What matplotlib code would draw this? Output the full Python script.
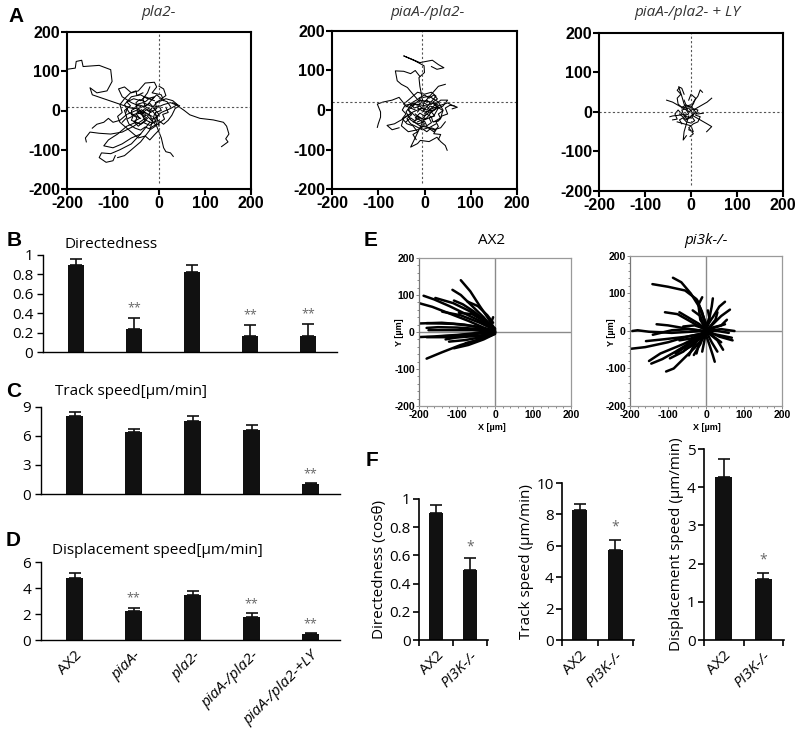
import matplotlib
matplotlib.use("Agg")
import matplotlib.pyplot as plt
from matplotlib.ticker import AutoMinorLocator

# ---------------- bar data (panels B-D) ----------------
groups = ["AX2", "piaA-", "pla2-", "piaA-/pla2-", "piaA-/pla2-+LY"]
directedness = [0.90, 0.24, 0.82, 0.16, 0.17]
directedness_err = [0.06, 0.11, 0.08, 0.12, 0.12]
directedness_sig = ["", "**", "", "**", "**"]
track_speed = [8.05, 6.44, 7.57, 6.61, 1.03]
track_speed_err = [0.48, 0.30, 0.55, 0.51, 0.07]
track_speed_sig = ["", "", "", "", "**"]
disp_speed = [4.77, 2.22, 3.44, 1.79, 0.46]
disp_speed_err = [0.36, 0.25, 0.33, 0.25, 0.05]
disp_speed_sig = ["", "**", "", "**", "**"]

# ---------------- bar data (panel F) ----------------
f_groups = ["AX2", "PI3K-/-"]
f_directedness = [0.90, 0.50]
f_directedness_err = [0.055, 0.08]
f_track = [8.3, 5.72]
f_track_err = [0.38, 0.68]
f_disp = [4.27, 1.59]
f_disp_err = [0.47, 0.16]

track_ticks = [-200, -100, 0, 100, 200]

# ---------------- cell tracks (panel A), x/y in um ----------------
tracks_pla2 = [
    [(-200, 105), (-182, 108), (-180, 125), (-168, 128), (-165, 112), (-130, 115), (-105, 104),
     (-102, 74), (-113, 50), (-135, 45), (-150, 58), (-145, 40), (-120, 30), (-95, 20),
     (-70, 10), (-50, 5), (-35, -5)],
    [(-10, 5), (10, 15), (25, 20), (38, 14), (55, 0), (67, -11), (89, -20), (118, -24),
     (140, -30), (147, -40), (152, -60), (145, -72), (150, -80), (136, -92)],
    [(-20, -20), (-5, -40), (5, -70), (10, -95), (15, -105), (25, -108), (31, -117)],
    [(-30, -20), (-55, -40), (-80, -55), (-105, -60), (-130, -58), (-150, -55), (-160, -70), (-158, -80)],
    [(-20, -30), (-40, -60), (-60, -85), (-85, -100), (-105, -110), (-125, -108), (-130, -120),
     (-115, -132), (-100, -128), (-95, -115)],
    [(-10, -10), (-20, -50), (-40, -80), (-65, -105), (-75, -115), (-90, -120)],
    [(-40, 10), (-60, 20), (-80, 35), (-88, 55), (-75, 60), (-60, 45), (-45, 50), (-30, 70),
     (-10, 72), (-5, 60), (-15, 45), (5, 40), (10, 25)],
    [(-30, -10), (-50, 0), (-70, -10), (-85, -25), (-100, -30), (-110, -20), (-120, -30),
     (-135, -35), (-145, -45)],
    [(-10, -30), (0, -10), (-15, 10), (-35, 20), (-50, 15), (-45, -5), (-25, -20), (-40, -35),
     (-60, -25), (-55, -10), (-30, -5), (-15, -15)],
    [(-20, 0), (-5, 20), (15, 30), (30, 25), (40, 15), (25, 5), (5, -5), (-10, -20), (-5, -35), (-20, -45)],
    [(-40, -20), (-65, -5), (-75, 15), (-60, 35), (-40, 40), (-25, 30), (-10, 35), (-25, 15),
     (-45, 5), (-35, -10)],
    [(-50, -30), (-70, -40), (-90, -60), (-110, -75), (-120, -90), (-100, -95), (-80, -85),
     (-60, -70), (-40, -60)],
    [(-20, 60), (-25, 45), (-35, 30), (-30, 10), (-15, 0), (-5, -15), (0, -40)],
    [(-60, -10), (-48, -18), (-52, -30), (-40, -35), (-30, -28), (-35, -15), (-22, -10), (-15, -22),
     (-5, -18), (-8, -5), (5, 0), (0, 12), (-12, 8), (-20, 18), (-32, 10), (-45, 15), (-55, 5),
     (-68, 8), (-72, -5)],
    [(-10, 25), (-22, 30), (-30, 22), (-42, 28), (-50, 20), (-48, 8), (-60, 0), (-58, -15), (-70, -22),
     (-65, -35), (-52, -45), (-40, -50), (-30, -42), (-18, -48), (-8, -40), (2, -30), (12, -22),
     (8, -10), (20, -5), (15, 8)],
    [(-40, -5), (-30, 5), (-18, -2), (-25, -15), (-12, -30), (-20, -38), (-35, -30), (-45, -40),
     (-55, -28), (-42, -20), (-50, -8), (-38, 2), (-28, -8)],
    [(25, 10), (18, 22), (5, 28), (-8, 20), (-5, 5), (-18, -5), (-28, 2), (-38, -10), (-28, -25),
     (-15, -32), (-2, -25), (10, -35), (20, -25), (28, -12), (35, 5), (45, 12), (30, 20)],
    [(-80, -30), (-70, -18), (-75, 0), (-62, 12), (-70, 22), (-55, 30), (-40, 25), (-30, 35),
     (-15, 28), (-5, 40), (5, 30), (15, 38), (10, 55), (0, 62)],
    [(-35, 45), (-48, 38), (-50, 50), (-62, 45), (-75, 30), (-85, 15), (-80, -5), (-90, -15),
     (-85, -30), (-70, -45), (-60, -55), (-45, -70), (-30, -65), (-20, -75), (-10, -62), (0, -50)],
]

tracks_piaA_pla2 = [
    [(0, 0), (-5, 30), (-10, 60), (-12, 82), (0, 95), (-1, 112), (-20, 124), (-45, 137), (-30, 130),
     (-10, 120), (17, 126), (30, 115), (42, 107), (27, 103), (15, 110)],
    [(-10, 20), (-25, 40), (-37, 57), (-50, 65), (-59, 74), (-63, 99), (-45, 98), (-30, 92),
     (-20, 100), (-10, 85)],
    [(0, 20), (15, 40), (30, 60), (45, 65)],
    [(-20, 0), (-40, 10), (-55, 32), (-70, 25), (-90, 20), (-102, 15), (-95, -5), (-95, -18),
     (-100, -35), (-102, -44)],
    [(-30, -10), (-50, -25), (-65, -35), (-81, -39), (-70, -50), (-55, -45)],
    [(0, -20), (-10, -45), (-20, -70), (-30, -94), (-15, -85), (-9, -77), (10, -80), (27, -69),
     (35, -80), (45, -90), (49, -102)],
    [(10, 0), (30, 10), (50, 18), (60, 12), (71, 7), (60, 3)],
    [(-30, 10), (-10, 25), (15, 20), (30, 5), (20, -15), (0, -25), (-20, -15), (-35, 0), (-20, 15),
     (5, 10), (15, -5), (5, -20), (-15, -30)],
    [(20, -30), (35, -20), (40, 0), (30, 20), (10, 35), (-10, 30), (-25, 20), (-40, -5), (-30, -25),
     (-10, -40), (10, -45), (25, -35)],
    [(-5, 5), (-25, -5), (-45, -20), (-50, -40), (-35, -55), (-15, -50), (0, -40), (20, -50),
     (35, -45), (45, -30)],
    [(0, -10), (20, 10), (35, 25), (50, 25), (40, 10), (20, 0), (0, -5), (-15, 5), (-10, 15)],
    [(-45, 15), (-30, 30), (-15, 45), (0, 40), (15, 45), (25, 35), (10, 15), (-5, -5)],
    [(-20, -10), (-10, -20), (-25, -30), (-12, -35), (0, -28), (5, -40), (15, -32), (10, -20),
     (22, -15), (15, -5), (25, 5), (12, 10), (5, 0), (-8, 5), (-15, -5)],
    [(-35, 0), (-28, -12), (-38, -22), (-30, -35), (-18, -42), (-5, -50), (8, -45), (20, -55),
     (30, -42), (25, -30), (35, -22), (30, -10), (40, -2), (28, 8), (20, 18), (8, 12), (-5, 20),
     (-15, 12), (-28, 18), (-40, 8)],
    [(10, -5), (0, -15), (-10, -8), (-20, -20), (-10, -25), (0, -35), (-8, -45), (5, -55), (15, -45),
     (25, -50), (20, -60), (35, -62), (30, -75)],
    [(-40, -30), (-30, -20), (-20, -28), (-15, -15), (-5, -22), (5, -10), (15, -18), (18, -30),
     (30, -28), (38, -15), (50, -10), (45, 5), (55, 12), (65, 10)],
    [(0, 0), (-10, 10), (-22, 5), (-30, 15), (-42, 12), (-48, 0), (-40, -10), (-48, -22), (-38, -35),
     (-25, -40), (-15, -55), (-25, -62), (-18, -75)],
    [(15, 15), (5, 25), (-5, 18), (-12, 30), (0, 38), (10, 30), (20, 38), (28, 28), (18, 20),
     (30, 12), (22, 0), (10, -8)],
]

tracks_ly = [
    [(-5, 0), (-15, 20), (-20, 40), (-27, 64), (-20, 60), (-15, 45)],
    [(0, 5), (5, 25), (15, 40), (20, 56), (25, 50)],
    [(5, 5), (20, 15), (35, 25), (45, 35)],
    [(-10, 5), (-25, 15), (-40, 25), (-53, 30)],
    [(-10, -5), (-25, -8), (-40, -10), (-46, -12)],
    [(-5, -10), (-10, -30), (-15, -50), (-17, -71), (-10, -60)],
    [(5, -10), (20, -20), (35, -30), (45, -37), (34, -50)],
    [(5, 0), (15, -5), (27, -3)],
    [(-20, 10), (0, 15), (10, 0), (0, -15), (-15, -10), (-20, 5), (-5, 10), (5, -5), (-10, -20), (-25, -5)],
    [(-15, 30), (-10, 15), (5, 20), (10, 35), (0, 45), (-5, 30)],
    [(-30, -25), (-15, -30), (0, -35), (5, -50), (-5, -45)],
    [(-10, 5), (-5, -5), (-15, -10), (-8, -18), (2, -12), (8, -22), (0, -28), (-10, -25), (-18, -15),
     (-25, -20), (-20, -30)],
    [(0, 10), (-10, 18), (-20, 12), (-28, 20), (-30, 35), (-22, 45), (-30, 55), (-25, 62)],
    [(-5, 0), (5, 8), (15, 5), (10, -8), (20, -12), (15, -25), (5, -30), (-5, -40), (5, -55), (-2, -62)],
    [(-20, -5), (-28, 5), (-35, -5), (-30, -18), (-40, -20)],
]

# ---------------- cell tracks (panel E) ----------------
tracks_ax2 = [
    [(0, 0), (-30, 12), (-70, 30), (-120, 50), (-165, 68), (-200, 78)],
    [(0, 5), (-30, 25), (-70, 45), (-120, 70), (-160, 88), (-188, 98)],
    [(0, 10), (-30, 35), (-70, 58), (-110, 78), (-157, 92)],
    [(-5, 15), (-20, 40), (-40, 70), (-65, 110), (-90, 140)],
    [(-5, 10), (-30, 40), (-60, 70), (-90, 100), (-112, 114)],
    [(0, 8), (-25, 30), (-55, 55), (-85, 75), (-108, 85)],
    [(-5, 25), (-20, 45), (-45, 70), (-72, 82)],
    [(0, 3), (-40, 12), (-80, 20), (-140, 25), (-200, 23)],
    [(0, 2), (-40, 8), (-100, 12), (-150, 13), (-180, 11)],
    [(0, 0), (-50, -3), (-100, -8), (-160, -12), (-206, -14)],
    [(0, -2), (-40, -10), (-90, -14), (-140, -14), (-180, -14)],
    [(0, -5), (-40, -20), (-90, -35), (-140, -55), (-180, -72)],
    [(0, -3), (-40, -15), (-80, -22), (-121, -26)],
    [(0, -5), (-30, -20), (-70, -35), (-108, -44)],
    [(0, -3), (-30, -15), (-55, -25), (-77, -30)],
    [(0, 5), (-40, 25), (-90, 45), (-139, 55)],
    [(0, 8), (-30, 30), (-60, 48), (-95, 52)],
    [(0, 2), (-50, 15), (-110, 22), (-180, 24)],
    [(0, 0), (-60, 5), (-120, 5), (-175, 5)],
    [(0, -2), (-50, -5), (-110, -10), (-150, -12)],
    [(-5, 40), (-10, 25), (-5, 10), (0, 0)],
    [(0, 0), (-40, -12), (-75, -10), (-130, -20)],
]

tracks_pi3k = [
    [(0, 0), (-40, -2), (-90, -5), (-150, -2), (-180, 2), (-194, 0)],
    [(0, -5), (-50, -15), (-100, -30), (-160, -43), (-203, -48)],
    [(-10, -10), (-40, -30), (-80, -55), (-115, -75), (-144, -87)],
    [(-5, -15), (-30, -45), (-60, -75), (-85, -100), (-105, -108)],
    [(0, -10), (-30, -30), (-60, -55), (-95, -73)],
    [(0, 10), (-10, 50), (-25, 85), (-55, 108), (-100, 118), (-141, 125)],
    [(0, 20), (-15, 60), (-40, 100), (-65, 130), (-87, 142)],
    [(-5, 5), (-40, 25), (-75, 45), (-108, 50)],
    [(0, 10), (10, 40), (15, 65), (18, 87)],
    [(0, 0), (20, 20), (40, 40), (63, 57)],
    [(0, 0), (25, 10), (50, 18)],
    [(0, -5), (30, -10), (68, -18)],
    [(0, -10), (10, -40), (18, -65), (23, -82)],
    [(-5, -10), (-15, -35), (-32, -64)],
    [(-10, 0), (-60, 8), (-100, 15), (-130, 18)],
    [(0, -5), (-50, -15), (-110, -22), (-158, -27)],
    [(0, 15), (-10, 45), (-23, 82)],
    [(0, 10), (20, 40), (35, 65), (50, 78)],
    [(0, 0), (-5, -30), (-10, -55)],
    [(0, 0), (30, 0), (60, -5)],
    [(-20, -20), (-35, -45), (-45, -65)],
    [(0, 5), (-20, 20), (-45, 35), (-70, 50)],
    [(5, 0), (35, -15), (70, -25)],
    [(0, 5), (40, 15), (55, 30)],
    [(0, 0), (15, -30), (30, -55)],
    [(0, 0), (-20, -40), (-25, -60)],
    [(0, -5), (-40, -20), (-70, -25)],
    [(0, 5), (-30, 15), (-60, 12)],
    [(0, 0), (10, 30), (5, 55)],
    [(5, 5), (25, 30), (30, 50)],
    [(-5, 0), (-30, -35), (-55, -50)],
    [(0, 0), (-15, 40), (-35, 55)],
    [(0, 0), (30, -25), (45, -50)],
    [(0, 0), (40, 5), (75, 0)],
    [(0, 0), (-50, -40), (-80, -60)],
    [(0, -5), (-60, -35), (-120, -60), (-150, -80)],
    [(0, 5), (-15, 30), (-20, 70), (-10, 90)],
    [(0, 0), (-45, 5), (-90, 2), (-140, -10)],
    [(0, 0), (-25, -15), (-50, -35)],
    [(0, 0), (20, -15), (40, -30)],
]

W, H = 800, 740
SANS = ["Open Sans", "DejaVu Sans"]
ARIAL = ["Liberation Sans", "DejaVu Sans"]

plt.rcParams["font.family"] = SANS

fig = plt.figure(figsize=(8, 7.4), dpi=100)


def box(left, top, right, bottom):
    # pixel box -> figure fraction rect
    return [left / W, 1 - bottom / H, (right - left) / W, (bottom - top) / H]


def ftext(x, y, s, **kw):
    fig.text(x / W, 1 - y / H, s, **kw)


def bold_ticks(ax, size):
    labels = [str(t) for t in track_ticks]
    ax.set_xticks(track_ticks)
    ax.set_yticks(track_ticks)
    ax.set_xticklabels(labels, family=ARIAL, fontweight="bold", fontsize=size)
    ax.set_yticklabels(labels, family=ARIAL, fontweight="bold", fontsize=size)


def track_panel(rect, tracks, hline, vline, title, tx):
    ax = fig.add_axes(rect)
    for tr in tracks:
        xs = [p[0] for p in tr]
        ys = [p[1] for p in tr]
        ax.plot(xs, ys, color="black", lw=0.75)
    ax.axhline(hline, color="#555555", lw=0.8, ls=(0, (2, 2)))
    ax.plot([vline, vline], [-185, 200], color="#555555", lw=0.8, ls=(0, (2, 2)))
    ax.set_xlim(-200, 200)
    ax.set_ylim(-200, 200)
    bold_ticks(ax, 11.5)
    for s in ax.spines.values():
        s.set_linewidth(1.5)
    ax.tick_params(direction="out", length=4, width=1.5, pad=1)
    ftext(tx, 13, title, ha="center", va="center", fontsize=11, style="italic",
          color="#333333")
    return ax


track_panel(box(67, 32, 251, 189), tracks_pla2, 10, 0, "pla2-", 159)
track_panel(box(332, 31, 517, 189), tracks_piaA_pla2, 20, -5, "piaA-/pla2-", 427)
track_panel(box(599, 33, 783, 191), tracks_ly, 0, 0, "piaA-/pla2- + LY", 687)


def bar_panel(rect, vals, errs, sigs, ylim, yticks, yticklabels, title, ty):
    ax = fig.add_axes(rect)
    x = list(range(len(vals)))
    ax.bar(x, vals, width=0.29, color="#111111", zorder=2)
    ax.errorbar(x, vals, yerr=[[0] * len(errs), errs], fmt="none", ecolor="#111111",
                elinewidth=1.2, capsize=4, capthick=1.2, zorder=1)
    span = ylim[1] - ylim[0]
    for xi, v, e, s in zip(x, vals, errs, sigs):
        if s:
            ax.text(xi, v + e + 0.04 * span, s, ha="center", va="bottom", fontsize=9,
                    color="#666666")
    ax.set_xlim(-0.57, 4.5)
    ax.set_ylim(*ylim)
    ax.set_yticks(yticks)
    ax.set_yticklabels(yticklabels, fontsize=11)
    ax.spines["top"].set_visible(False)
    ax.spines["right"].set_visible(False)
    ax.spines["left"].set_linewidth(1.0)
    ax.spines["bottom"].set_linewidth(1.0)
    ax.tick_params(axis="y", direction="out", length=4, width=1.0, pad=3)
    ax.tick_params(axis="x", length=0)
    ax.set_xticks(x)
    ax.set_xticklabels([])
    ftext(ty[0], ty[1], title, ha="left", va="center", fontsize=11)
    return ax


bar_panel(box(43, 255, 337, 352), directedness, directedness_err, directedness_sig,
          (0, 1), [0, 0.2, 0.4, 0.6, 0.8, 1], ["0", "0.2", "0.4", "0.6", "0.8", "1"],
          "Directedness", (65, 244))
bar_panel(box(41, 407, 340, 494), track_speed, track_speed_err, track_speed_sig,
          (0, 9), [0, 3, 6, 9], ["0", "3", "6", "9"], "Track speed[\u00b5m/min]", (55, 391))
axd = bar_panel(box(41, 562, 340, 640), disp_speed, disp_speed_err, disp_speed_sig,
                (0, 6), [0, 2, 4, 6], ["0", "2", "4", "6"],
                "Displacement speed[\u00b5m/min]", (52, 550))
axd.set_xticklabels(groups, rotation=45, ha="right", rotation_mode="anchor", fontsize=11)
for i, lab in enumerate(axd.get_xticklabels()):
    if i > 0:
        lab.set_style("italic")
axd.tick_params(axis="x", pad=6)


def cross_panel(rect, tracks, ylab_x, xlab_x):
    ax = fig.add_axes(rect)
    for tr in tracks:
        xs = [p[0] for p in tr]
        ys = [p[1] for p in tr]
        ax.plot(xs, ys, color="black", lw=1.8, solid_capstyle="round")
    ax.axhline(0, color="#8a8a8a", lw=1.0, zorder=0)
    ax.axvline(0, color="#8a8a8a", lw=1.0, zorder=0)
    ax.set_xlim(-200, 200)
    ax.set_ylim(-200, 200)
    bold_ticks(ax, 7.5)
    ax.xaxis.set_minor_locator(AutoMinorLocator(5))
    ax.yaxis.set_minor_locator(AutoMinorLocator(5))
    for s in ax.spines.values():
        s.set_color("#9a9a9a")
        s.set_linewidth(0.9)
    ax.spines["left"].set_color("#777777")
    ax.tick_params(which="both", direction="out", length=2, width=0.7, color="#888888", pad=1)
    ax.tick_params(which="minor", length=1.2)
    ax.tick_params(top=False, right=False, which="both")
    ftext(ylab_x, 332, "Y [\u00b5m]", rotation=90, ha="center", va="center", fontsize=6.5,
          fontweight="bold", family=ARIAL)
    ftext(xlab_x, 428, "X [\u00b5m]", ha="center", va="center", fontsize=6.5,
          fontweight="bold", family=ARIAL)
    return ax


cross_panel(box(419, 258, 571, 406), tracks_ax2, 400, 492)
cross_panel(box(630, 256, 782, 406), tracks_pi3k, 611, 707)
ftext(492, 241, "AX2", ha="center", va="center", fontsize=11)
ftext(706, 241, "pi3k-/-", ha="center", va="center", fontsize=11, style="italic")


def f_panel(rect, vals, errs, width, ylim, yticks, yticklabels, ylabel):
    ax = fig.add_axes(rect)
    x = [0.5, 1.5]
    ax.bar(x, vals, width=width, color="#111111", zorder=2)
    ax.errorbar(x, vals, yerr=[[0, 0], errs], fmt="none", ecolor="#111111",
                elinewidth=1.2, capsize=4, capthick=1.2, zorder=1)
    span = ylim[1] - ylim[0]
    ax.text(x[1], vals[1] + errs[1] + 0.03 * span, "*", ha="center", va="bottom",
            fontsize=10, color="#666666")
    ax.set_xlim(0, 2.02)
    ax.set_ylim(*ylim)
    ax.set_yticks(yticks)
    ax.set_yticklabels(yticklabels, fontsize=11)
    ax.set_xticks([0, 1, 2])
    ax.set_xticklabels([])
    ax.set_xticks(x, minor=True)
    ax.set_xticklabels(f_groups, minor=True, rotation=45, ha="right",
                       rotation_mode="anchor", fontsize=11)
    ax.get_xticklabels(minor=True)[1].set_style("italic")
    ax.tick_params(axis="x", which="minor", length=0, pad=6)
    ax.tick_params(axis="x", which="major", direction="out", length=4, width=1.2)
    ax.tick_params(axis="y", direction="out", length=4, width=1.2, pad=2)
    ax.spines["top"].set_visible(False)
    ax.spines["right"].set_visible(False)
    ax.spines["left"].set_linewidth(1.2)
    ax.spines["bottom"].set_linewidth(1.2)
    ax.set_ylabel(ylabel, fontsize=11, labelpad=2)
    return ax


f_panel(box(419, 499, 488, 640), f_directedness, f_directedness_err, 0.4, (0, 1),
        [0, 0.2, 0.4, 0.6, 0.8, 1], ["0", "0.2", "0.4", "0.6", "0.8", "1"],
        "Directedness (cos\u03b8)")
f_panel(box(562, 483, 634, 640), f_track, f_track_err, 0.42, (0, 10),
        [0, 2, 4, 6, 8, 10], ["0", "2", "4", "6", "8", "10"], "Track speed (\u00b5m/min)")
f_panel(box(704, 449, 784, 640), f_disp, f_disp_err, 0.42, (0, 5),
        [0, 1, 2, 3, 4, 5], ["0", "1", "2", "3", "4", "5"],
        "Displacement speed (\u00b5m/min)")

# panel letters
for letter, (lx, ly) in {"A": (8, 17), "B": (7, 240), "C": (6, 391), "D": (6, 541),
                         "E": (364, 240), "F": (366, 460)}.items():
    ftext(lx, ly, letter, ha="left", va="center", fontsize=15, fontweight="bold",
          family=ARIAL)

fig.savefig("out.png", dpi=100, facecolor="white")
